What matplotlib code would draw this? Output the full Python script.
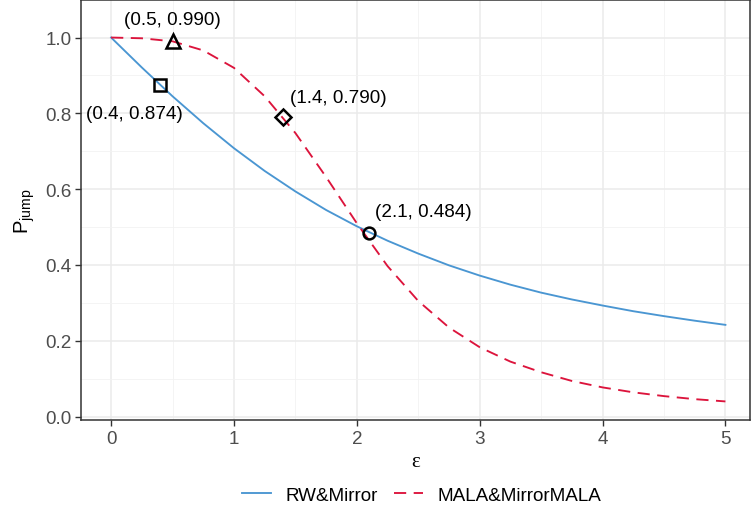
import matplotlib
matplotlib.use("Agg")
from matplotlib import pyplot as plt

plt.rcParams["font.family"] = ["Liberation Sans", "DejaVu Sans"]
plt.rcParams["mathtext.fontset"] = "custom"
plt.rcParams["mathtext.rm"] = "Liberation Sans"

# curves
eps = [0, 0.25, 0.5, 0.75, 1.0, 1.25, 1.5, 1.75, 2.0, 2.25, 2.5,
       2.75, 3.0, 3.25, 3.5, 3.75, 4.0, 4.25, 4.5, 4.75, 5.0]
p_rw = [1.000, 0.921, 0.845, 0.774, 0.708, 0.648, 0.594, 0.545, 0.502, 0.464, 0.430,
        0.399, 0.372, 0.348, 0.327, 0.309, 0.293, 0.278, 0.265, 0.253, 0.242]
p_mala = [1.000, 0.998, 0.990, 0.966, 0.920, 0.845, 0.748, 0.632, 0.510, 0.397, 0.305,
          0.235, 0.183, 0.145, 0.117, 0.094, 0.077, 0.064, 0.054, 0.046, 0.040]

# highlighted points
pt_x = [0.4, 0.5, 1.4, 2.1]
pt_y = [0.874, 0.990, 0.790, 0.484]
pt_marker = ["s", "^", "D", "o"]
pt_size = [8.5, 9.5, 8, 8.5]
pt_offset = [(-26, -28), (0, 22), (55, 20), (54, 22)]

blue = "#4A96D2"
red = "#DC143C"
fs = 13.6

fig = plt.figure(figsize=(7.51, 5.10), dpi=100)
ax = fig.add_axes([81 / 751, 89 / 510, 669 / 751, 420 / 510])

ax.plot(eps, p_rw, color=blue, lw=1.35, label="RW&Mirror", zorder=3)
ax.plot(eps, p_mala, color=red, lw=1.35, dashes=(6.5, 4), label="MALA&MirrorMALA", zorder=3)

for x, y, m, s, off in zip(pt_x, pt_y, pt_marker, pt_size, pt_offset):
    ax.plot(x, y, marker=m, ms=s, mfc="none", mec="black", mew=1.8, zorder=4)
    ax.annotate("(%.1f, %.3f)" % (x, y), (x, y), xytext=off, textcoords="offset pixels",
                ha="center", va="center", fontsize=fs, color="black")

ax.set_xlim(-0.245, 5.2)
ax.set_ylim(-0.009, 1.099)
ax.set_xticks([0, 1, 2, 3, 4, 5])
ax.set_xticks([0.5, 1.5, 2.5, 3.5, 4.5], minor=True)
ax.set_yticks([0.0, 0.2, 0.4, 0.6, 0.8, 1.0])
ax.set_yticks([0.1, 0.3, 0.5, 0.7, 0.9], minor=True)
ax.set_yticklabels(["0.0", "0.2", "0.4", "0.6", "0.8", "1.0"])
ax.grid(which="major", color="#EBEBEB", lw=1.1)
ax.grid(which="minor", color="#F2F2F2", lw=0.6)
ax.set_axisbelow(True)
ax.tick_params(which="major", length=4, width=1, color="#333333", labelsize=fs,
               labelcolor="#4D4D4D", pad=3)
ax.tick_params(which="minor", length=0)
for sp in ax.spines.values():
    sp.set_color("#333333")
    sp.set_linewidth(1.1)

ax.set_xlabel("ε", fontsize=15, family=["Liberation Serif", "DejaVu Serif"], labelpad=4)
ax.set_ylabel(r"$\mathrm{P}_{\mathrm{jump}}$", fontsize=14.5, labelpad=6)

fig.legend(loc="center", bbox_to_anchor=(422 / 751, 14 / 510), ncol=2, frameon=False,
           fontsize=fs, handlelength=1.5, handletextpad=0.8, columnspacing=0.85,
           borderpad=0)

fig.savefig("out.png", dpi=100)
